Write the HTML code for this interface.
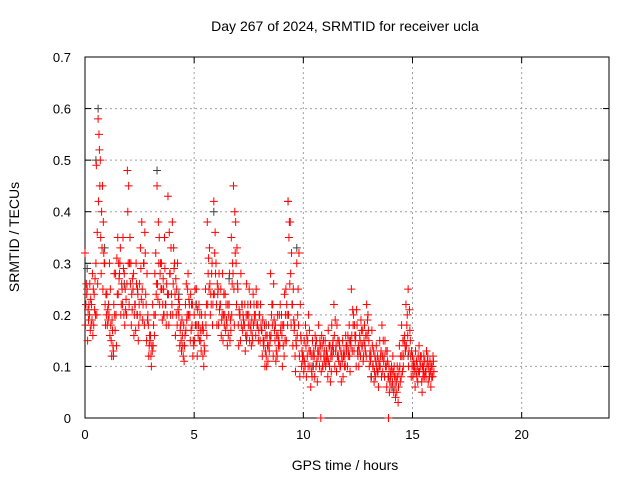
<!DOCTYPE html>
<html><head><meta charset="utf-8"><style>
body{margin:0;background:#fff;}
svg{display:block;font-family:"Liberation Sans",sans-serif;}
</style></head><body>
<svg id="chart" width="640" height="480">
<text x="345" y="31" font-size="14" text-anchor="middle">Day 267 of 2024, SRMTID for receiver ucla</text>
<text x="345" y="470" font-size="14" text-anchor="middle">GPS time / hours</text>
<text transform="translate(19,237) rotate(-90)" font-size="14" text-anchor="middle">SRMTID / TECUs</text>
<g id="grid"></g>
<g id="axes"></g>
<g id="marks"></g>
</svg>
<script>
const xTicks=[0,5,10,15,20];
const yTicks=[0,0.1,0.2,0.3,0.4,0.5,0.6,0.7];
const yTickLabels=["0","0.1","0.2","0.3","0.4","0.5","0.6","0.7"];
const startHour=0, stepHour=0.1;
const seriesA=[.32,.25,.20,.22,.18,.30,.58,.50,.45,.30,
.24,.20,.15,.13,.28,.35,.30,.25,.28,.20,
.45,.30,.25,.22,.20,.26,.38,.30,.22,.18,
.16,.22,.28,.45,.35,.30,.25,.22,.43,.28,
.38,.30,.25,.20,.15,.12,.22,.25,.20,.18,
.20,.25,.18,.15,.12,.20,.38,.33,.28,.42,
.30,.25,.22,.28,.20,.18,.22,.35,.45,.38,
.25,.20,.22,.18,.26,.20,.17,.24,.20,.18,
.20,.17,.15,.12,.18,.28,.22,.15,.12,.20,
.20,.18,.25,.42,.38,.22,.18,.30,.32,.15,
.12,.18,.15,.10,.08,.12,.15,.18,.12,.10,
.15,.12,.10,.18,.22,.14,.12,.10,.15,.12,
.14,.18,.25,.20,.16,.12,.15,.14,.18,.22,
.15,.12,.10,.08,.12,.15,.18,.12,.10,.08,
.08,.12,.06,.10,.14,.18,.12,.22,.25,.15,
.12,.10,.08,.14,.12,.10,.09,.12,.11,.10];
const seriesB=[.18,.15,.26,.19,.24,.49,.42,.35,.25,.22,
.18,.30,.12,.22,.20,.24,.33,.22,.18,.26,
.22,.18,.28,.17,.24,.20,.25,.18,.15,.12,
.12,.14,.20,.26,.22,.25,.20,.18,.24,.20,
.20,.24,.18,.22,.13,.18,.17,.28,.15,.22,
.15,.18,.22,.13,.17,.25,.22,.26,.30,.24,
.22,.18,.25,.15,.24,.14,.28,.20,.25,.30,
.18,.15,.17,.22,.16,.25,.14,.18,.16,.22,
.15,.12,.18,.10,.14,.16,.12,.18,.20,.14,
.16,.12,.15,.20,.28,.14,.12,.16,.12,.10,
.09,.14,.10,.13,.15,.08,.11,.13,.09,.15,
.10,.08,.14,.12,.16,.09,.11,.13,.08,.10,
.10,.12,.16,.13,.10,.14,.12,.17,.14,.16,
.10,.08,.13,.11,.09,.10,.12,.08,.06,.10,
.06,.09,.04,.08,.10,.12,.15,.14,.10,.12,
.08,.06,.10,.09,.07,.12,.08,.07,.09,.08];
const seriesC=[.22,.21,.17,.28,.21,.20,.55,.28,.38,.18,
.21,.16,.19,.28,.14,.30,.20,.35,.25,.48,
.30,.24,.16,.30,.15,.33,.19,.36,.28,.14,
.10,.18,.32,.23,.28,.19,.35,.26,.18,.33,
.26,.16,.30,.14,.19,.11,.26,.20,.24,.12,
.25,.12,.15,.20,.10,.18,.28,.20,.18,.32,
.18,.28,.16,.20,.17,.22,.15,.26,.18,.22,
.14,.28,.20,.13,.20,.15,.19,.22,.25,.15,
.22,.19,.10,.16,.13,.20,.26,.11,.16,.22,
.10,.24,.22,.35,.18,.25,.09,.20,.08,.13,
.15,.08,.20,.06,.12,.16,.07,.10,.16,.12,
.12,.17,.07,.14,.10,.18,.15,.07,.12,.16,
.16,.09,.13,.18,.21,.10,.19,.11,.13,.19,
.12,.17,.07,.14,.06,.12,.09,.15,.13,.05,
.10,.05,.08,.03,.07,.09,.16,.18,.13,.08,
.10,.13,.07,.11,.05,.08,.13,.10,.06,.12];
const seriesD=[.26,.19,.23,.16,.27,.36,.52,.40,.32,.24,
.19,.25,.17,.20,.31,.27,.22,.29,.21,.40,
.35,.21,.20,.26,.18,.29,.22,.32,.19,.16,
.14,.20,.24,.38,.30,.22,.29,.20,.36,.24,
.33,.27,.21,.17,.16,.14,.19,.23,.17,.15,
.18,.21,.20,.17,.14,.22,.31,.24,.22,.36,
.26,.21,.19,.24,.22,.16,.19,.30,.40,.33,
.21,.18,.19,.16,.22,.18,.16,.20,.22,.17,
.18,.15,.13,.14,.16,.22,.19,.13,.14,.17,
.18,.15,.20,.38,.32,.19,.15,.25,.22,.12,
.11,.16,.13,.12,.10,.14,.13,.15,.14,.13,
.13,.11,.12,.15,.19,.12,.14,.12,.13,.14,
.12,.15,.21,.16,.18,.13,.17,.12,.16,.20,
.13,.14,.09,.10,.11,.13,.15,.10,.11,.07,
.09,.10,.07,.06,.12,.15,.14,.20,.21,.13,
.11,.09,.12,.12,.10,.11,.10,.09,.10,.11];
const seriesE=[.24,.22,.18,.25,.20,.26,.45,.33,.30,.20,
.22,.18,.14,.17,.24,.28,.26,.20,.23,.30,
.26,.27,.22,.20,.22,.23,.30,.24,.20,.15,
.13,.16,.26,.30,.25,.27,.22,.24,.28,.22,
.29,.20,.23,.18,.14,.16,.20,.22,.22,.14,
.22,.16,.17,.18,.13,.16,.25,.22,.24,.28,
.24,.22,.20,.18,.19,.20,.17,.28,.32,.26,
.20,.22,.18,.20,.18,.22,.15,.19,.18,.20,
.17,.14,.16,.11,.15,.18,.17,.16,.15,.18,
.14,.20,.18,.26,.22,.17,.14,.18,.16,.11,
.10,.12,.17,.09,.13,.10,.12,.14,.10,.11,
.11,.14,.09,.13,.13,.15,.10,.11,.10,.13,
.13,.14,.18,.15,.13,.16,.14,.15,.12,.17,
.11,.10,.12,.09,.10,.08,.11,.13,.08,.09,
.07,.08,.05,.09,.08,.10,.13,.16,.17,.10,
.09,.11,.09,.10,.08,.09,.11,.08,.08,.09];
const blackHours=[0.1,0.5,0.6,0.9,1.3,1.8,2.4,3.3,3.6,4.3,5.1,5.9,6.6,7.4,8.3,9.3,9.7,10.4,11.3,12.1,13.1,14.1,14.8,15.5];
const blackValues=[.29,.50,.60,.33,.12,.26,.25,.48,.20,.24,.22,.40,.27,.15,.18,.42,.33,.10,.13,.15,.08,.06,.12,.09];
const zeroHours=[10.8,13.9];
const zeroValues=[0,0];

const X0=85,X1=609,Y0=418,Y1=57,XMAX=24,YMAX=0.7;
const xs=h=>X0+(X1-X0)*h/XMAX;
const ys=v=>Y0-(Y0-Y1)*v/YMAX;
const NS="http://www.w3.org/2000/svg";
function mk(tag,attrs,parent){const e=document.createElementNS(NS,tag);for(const k in attrs)e.setAttribute(k,attrs[k]);parent.appendChild(e);return e;}
const grid=document.getElementById('grid'),axes=document.getElementById('axes'),marks=document.getElementById('marks');
mk('rect',{x:X0,y:Y1,width:X1-X0,height:Y0-Y1,fill:'none',stroke:'#000','stroke-width':1},axes);
xTicks.forEach(t=>{const x=xs(t);
 if(t>0){const g=mk('line',{x1:x,x2:x,y1:Y1,y2:Y0,stroke:'#a0a0a0','stroke-dasharray':'2,3'},grid);}
 mk('line',{x1:x,x2:x,y1:Y0,y2:Y0-6,stroke:'#000'},axes);mk('line',{x1:x,x2:x,y1:Y1,y2:Y1+6,stroke:'#000'},axes);
 const l=mk('text',{x:x,y:Y0+21,'font-size':13,'text-anchor':'middle'},axes);l.textContent=t;
 });
yTicks.forEach((t,i)=>{const y=ys(t);
 if(t>0&&t<YMAX){const g=mk('line',{x1:X0,x2:X1,y1:y,y2:y,stroke:'#a0a0a0','stroke-dasharray':'2,3'},grid);}
 mk('line',{x1:X0,x2:X0+6,y1:y,y2:y,stroke:'#000'},axes);mk('line',{x1:X1,x2:X1-6,y1:y,y2:y,stroke:'#000'},axes);
 const l=mk('text',{x:X0-14,y:y+5,'font-size':13,'text-anchor':'end'},axes);l.textContent=yTickLabels[i];
 });
function plus(h,v,color){const x=xs(h),y=ys(v);
 const p=mk('path',{d:`M${x-4},${y}h8M${x},${y-4}v8`,stroke:color,'stroke-width':1,fill:'none'},marks);
 }
blackHours.forEach((h,i)=>plus(h,blackValues[i],'#404040'));
[[seriesA,0],[seriesB,0.02],[seriesC,0.04],[seriesD,0.06],[seriesE,0.08]].forEach(([s,off])=>s.forEach((v,i)=>plus(startHour+i*stepHour+off,v,'#ff0000')));
zeroHours.forEach((h,i)=>plus(h,zeroValues[i],'#ff0000'));
</script>
</body></html>
